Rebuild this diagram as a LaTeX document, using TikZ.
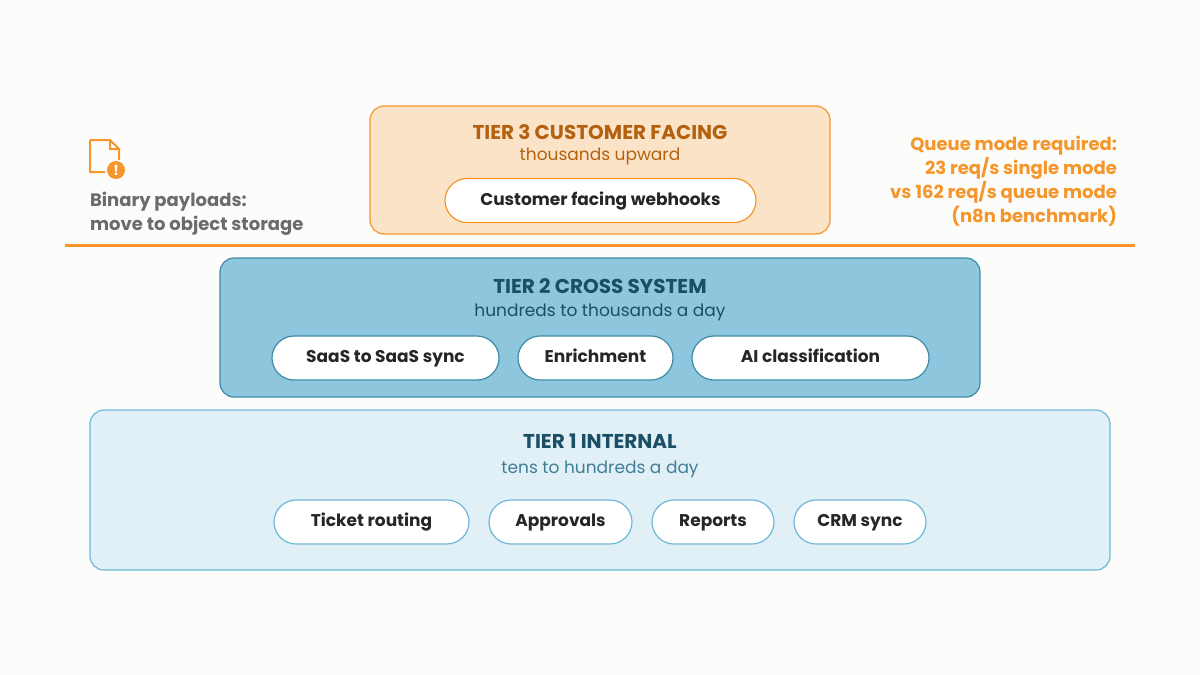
\documentclass[tikz,border=0pt]{standalone}
\usepackage{fontspec}
\setmainfont{Poppins}
\usetikzlibrary{positioning}
\definecolor{bgc}{HTML}{FCFCFA}
\definecolor{orng}{HTML}{F5952A}
\definecolor{peach}{HTML}{FBE3C8}
\definecolor{brn}{HTML}{B4610F}
\definecolor{midblue}{HTML}{8EC6DE}
\definecolor{dkblue}{HTML}{3E8BA8}
\definecolor{ltblue}{HTML}{E1F0F7}
\definecolor{skyb}{HTML}{6DB8D6}
\definecolor{navy}{HTML}{1B4F66}
\definecolor{teal}{HTML}{3F7F96}
\definecolor{gry}{HTML}{6B6B6B}
\begin{document}
\begin{tikzpicture}[x=0.5pt,y=-0.5pt,
    tier/.style={draw,rounded corners=7pt,line width=0.6pt},
    pill/.style={draw,fill=white,rounded corners=11pt,line width=0.6pt,minimum height=22pt,text height=6.5pt,text depth=2pt,font=\fontsize{8.5}{10}\selectfont\bfseries,text=black!85},
    ttl/.style={font=\fontsize{10}{12}\selectfont\bfseries},
    sub/.style={font=\fontsize{8.5}{10}\selectfont}]
\fill[bgc] (0,0) rectangle (1200,675);
\useasboundingbox (0,0) rectangle (1200,675);
% tier 3
\draw[tier,draw=orng,fill=peach] (370,106) rectangle (830,234);
\node[ttl,text=brn] (t3) at (600,132) {TIER 3 CUSTOMER FACING};
\node[sub,text=brn] (s3) at (600,156) {thousands upward};
\node[pill,draw=orng,minimum width=155.5pt] (webhooks) at (600.5,200.5) {Customer facing webhooks};
\draw[orng,line width=1.5pt] (65,245) -- (1135,245);
% tier 2
\draw[tier,draw=dkblue,fill=midblue] (220,258) rectangle (980,397);
\node[ttl,text=navy] (t2) at (600,286) {TIER 2 CROSS SYSTEM};
\node[sub,text=navy] (s2) at (600,312) {hundreds to thousands a day};
\node[pill,draw=dkblue,minimum width=113.5pt] (saas) at (385.5,358) {SaaS to SaaS sync};
\node[pill,draw=dkblue,minimum width=77.5pt] (enrich) at (595.5,358) {Enrichment};
\node[pill,draw=dkblue,minimum width=118.5pt] (ai) at (810.5,358) {AI classification};
% tier 1
\draw[tier,draw=skyb,fill=ltblue] (90,410) rectangle (1110,570);
\node[ttl,text=navy] (t1) at (600,441) {TIER 1 INTERNAL};
\node[sub,text=teal] (s1) at (600,469) {tens to hundreds a day};
\node[pill,draw=skyb,minimum width=97.5pt] (ticket) at (371.5,522) {Ticket routing};
\node[pill,draw=skyb,minimum width=71.5pt] (approv) at (560.5,522) {Approvals};
\node[pill,draw=skyb,minimum width=61pt] (reports) at (713,522) {Reports};
\node[pill,draw=skyb,minimum width=66pt] (crm) at (860,522) {CRM sync};
% side notes
\draw[orng,line width=1pt] (90,140) -- (110,140) -- (119,149) -- (119,160) (110,140) -- (110,149) -- (119,149) (90,140) -- (90,172) -- (105,172);
\fill[orng] (116,170) circle (9);
\node[text=white,font=\fontsize{7}{8}\selectfont\bfseries] (warn) at (116,170) {!};
\node[anchor=north west,text=gry,align=left,font=\fontsize{9}{12}\selectfont\bfseries] (binary) at (83,185) {Binary payloads:\\move to object storage};
\node[anchor=north east,text=orng,align=right,font=\fontsize{9}{12}\selectfont\bfseries] (queue) at (1124,129) {Queue mode required:\\23 req/s single mode\\vs 162 req/s queue mode\\(n8n benchmark)};
\end{tikzpicture}
\end{document}
